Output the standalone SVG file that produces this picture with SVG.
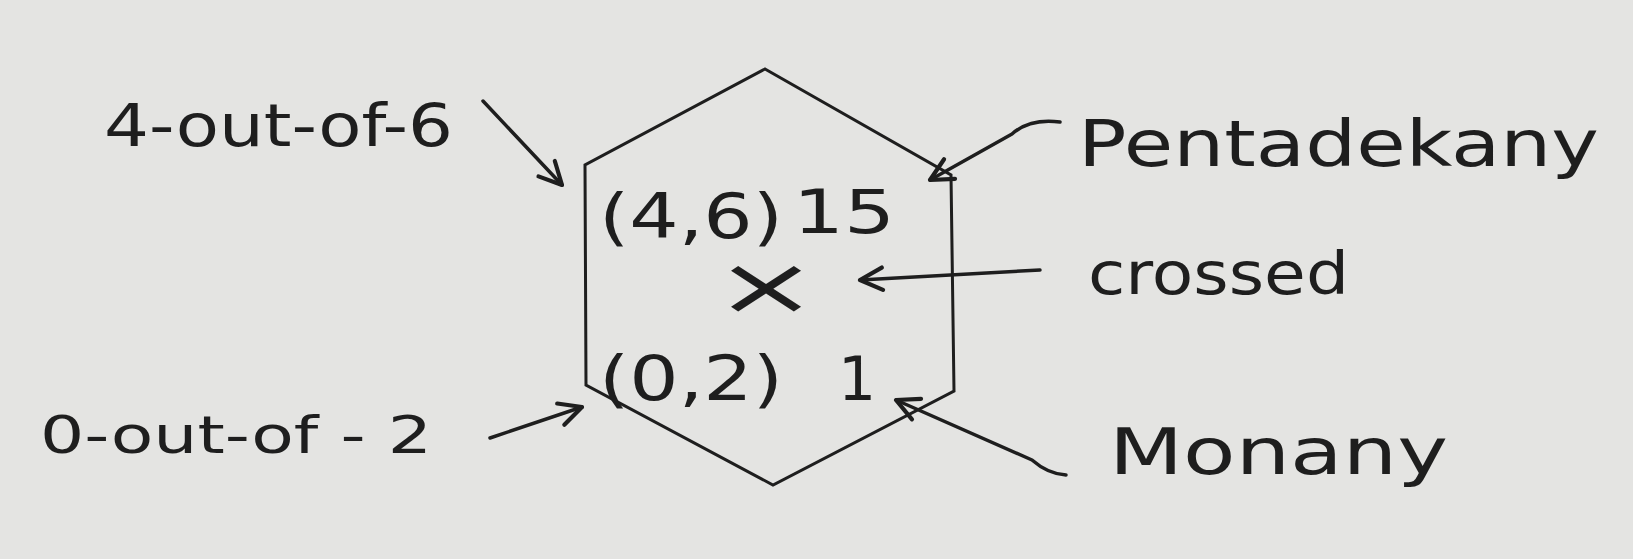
<svg xmlns="http://www.w3.org/2000/svg" width="1633" height="559" viewBox="0 0 1633 559">
<defs>
<style>
.t{font-family:"DejaVu Sans","Liberation Sans",sans-serif;fill:#1e1e1e}
.ln{fill:none;stroke:#1e1e1e;stroke-width:3.5;stroke-linecap:round;stroke-linejoin:round}
.hex{fill:none;stroke:#1e1e1e;stroke-width:3;stroke-linejoin:miter}
</style>
<marker id="ah" viewBox="0 0 20 20" refX="18" refY="10" markerWidth="28" markerHeight="28" markerUnits="userSpaceOnUse" orient="auto">
<path d="M2,2 L18,10 L2,18" fill="none" stroke="#1e1e1e" stroke-width="3" stroke-linecap="round" stroke-linejoin="round"/>
</marker>
</defs>
<rect width="1633" height="559" fill="#e4e4e2"/>
<g id="hexagon">
<polygon class="hex" points="765,69 951,175 954,391 773,485 586,385 585,165"/>
<text class="t" x="599" y="238" font-size="62" textLength="184" lengthAdjust="spacingAndGlyphs">(4,6)</text>
<text class="t" x="793" y="233" font-size="60" textLength="102" lengthAdjust="spacingAndGlyphs">15</text>
<text class="t" x="714" y="314" font-size="80" textLength="104" lengthAdjust="spacingAndGlyphs">×</text>
<text class="t" x="599" y="400" font-size="62" textLength="184" lengthAdjust="spacingAndGlyphs">(0,2)</text>
<text class="t" x="838" y="400" font-size="60">1</text>
</g>
<g id="label-4-out-of-6">
<text class="t" x="104" y="146" font-size="58" textLength="349" lengthAdjust="spacingAndGlyphs">4-out-of-6</text>
</g>
<g id="label-0-out-of-2">
<text class="t" x="40" y="453" font-size="52" textLength="392" lengthAdjust="spacingAndGlyphs">0-out-of - 2</text>
</g>
<g id="label-pentadekany">
<text class="t" x="1078" y="166" font-size="64" textLength="521" lengthAdjust="spacingAndGlyphs">Pentadekany</text>
</g>
<g id="label-crossed">
<text class="t" x="1088" y="294" font-size="58" textLength="261" lengthAdjust="spacingAndGlyphs">crossed</text>
</g>
<g id="label-monany">
<text class="t" x="1109" y="474" font-size="64" textLength="339" lengthAdjust="spacingAndGlyphs">Monany</text>
</g>
<g id="connectors">
<path class="ln" d="M483,101 L562,185" marker-end="url(#ah)"/>
<path class="ln" d="M490,438 L582,407" marker-end="url(#ah)"/>
<path class="ln" d="M1040,270 L860,280" marker-end="url(#ah)"/>
<path class="ln" d="M1060,122 Q1030,118 1012,134 L930,180" marker-end="url(#ah)"/>
<path class="ln" d="M1066,475 Q1048,474 1032,460 L896,400" marker-end="url(#ah)"/>
</g>
</svg>
